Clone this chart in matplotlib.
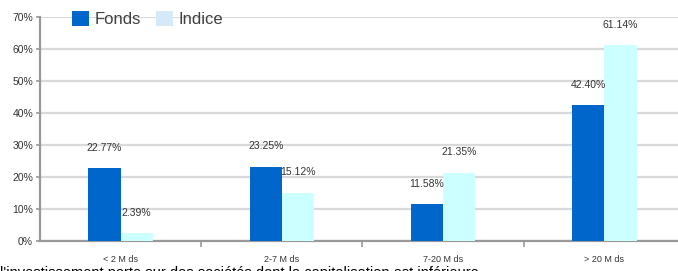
import matplotlib
matplotlib.use("Agg")
import matplotlib.pyplot as plt
import matplotlib.ticker as mticker
import numpy as np
from matplotlib.patches import Patch

categories = ["< 2 M ds", "2-7 M ds", "7-20 M ds", "> 20 M ds"]
fonds = [22.77, 23.25, 11.58, 42.40]
indice = [2.39, 15.12, 21.35, 61.14]
series_names = ["Fonds", "Indice"]

C_FONDS = "#0066CC"
C_INDICE = "#CCFFFF"
GRID = "#D9D9D9"
AXIS = "#999999"
TXT = "#333333"

plt.rcParams.update({"font.family": ["Liberation Sans", "DejaVu Sans"]})

fig = plt.figure(figsize=(6.78, 2.71), dpi=100)
ax = fig.add_axes([40 / 678, 30 / 271, 1 - 40 / 678, 224 / 271])

x = np.arange(len(categories))
w = 0.2
b1 = ax.bar(x - w / 2, fonds, w, color=C_FONDS, zorder=3)
b2 = ax.bar(x + w / 2, indice, w, color=C_INDICE, zorder=3)

for bars, vals in [(b1, fonds), (b2, indice)]:
    for r, v in zip(bars, vals):
        ax.annotate(f"{v:.2f}%", (r.get_x() + r.get_width() / 2, v),
                    xytext=(0, 11), textcoords="offset points",
                    ha="center", va="bottom", fontsize=7.5, color=TXT, zorder=4)

ax.set_xlim(-0.5, 3.457)
ax.set_ylim(0, 70)
ax.yaxis.set_major_locator(mticker.MultipleLocator(10))
ax.yaxis.set_major_formatter(mticker.FuncFormatter(lambda v, p: f"{v:.0f}%"))
ax.grid(axis="y", color=GRID, lw=1.6, zorder=0)
ax.set_axisbelow(True)

ax.set_xticks(x)
ax.set_xticklabels(categories, fontsize=6.5, color=TXT)
ax.tick_params(axis="x", which="major", length=0, pad=10)
ax.set_xticks([0.5, 1.5, 2.5], minor=True)
ax.tick_params(axis="x", which="minor", length=4, width=1.2, color=AXIS)
ax.tick_params(axis="y", length=3, width=1.2, color=AXIS, labelsize=7.5,
               labelcolor=TXT, pad=2)

for s in ["top", "right"]:
    ax.spines[s].set_visible(False)
ax.spines["left"].set_color(AXIS)
ax.spines["left"].set_linewidth(1.6)
ax.spines["bottom"].set_color(AXIS)
ax.spines["bottom"].set_linewidth(1.6)

handles = [Patch(facecolor=C_FONDS, label=series_names[0]),
           Patch(facecolor="#D6E9F8", label=series_names[1])]
fig.legend(handles=handles, loc="center left", bbox_to_anchor=(72 / 678, 1 - 19 / 271),
           ncol=2, frameon=False, fontsize=12, labelcolor="#404040",
           handlelength=1.0, handleheight=1.0, handletextpad=0.35,
           columnspacing=0.9, borderpad=0, borderaxespad=0)

fig.text(0.0, -0.035, "l'investissement porte sur des sociétés dont la capitalisation est inférieure",
         fontsize=10.5, color="black", ha="left", va="bottom")

fig.savefig("out.png", dpi=100)
